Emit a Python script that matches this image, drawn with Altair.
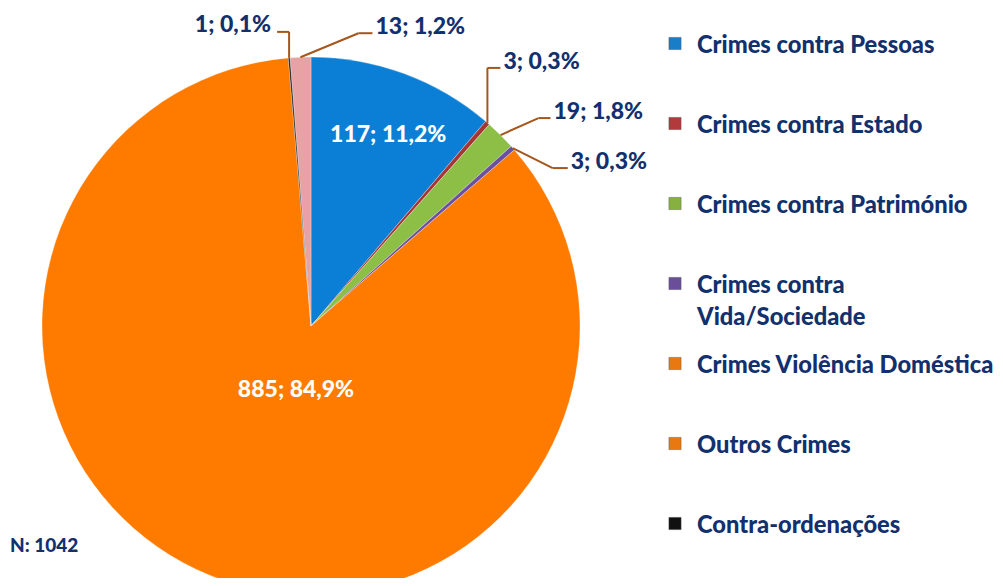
import altair as alt
import pandas as pd

# ---------------- data ----------------
categories = [
    "Crimes contra Pessoas",
    "Crimes contra Estado",
    "Crimes contra Património",
    "Crimes contra Vida/Sociedade",
    "Crimes Violência Doméstica",
    "Outros Crimes",
    "Contra-ordenações",
]
legend_labels = [
    "Crimes contra Pessoas",
    "Crimes contra Estado",
    "Crimes contra Património",
    "Crimes contra\nVida/Sociedade",
    "Crimes Violência Doméstica",
    "Outros Crimes",
    "Contra-ordenações",
]
counts = [117, 3, 19, 3, 885, 13, 1]
percent_labels = ["11,2%", "0,3%", "1,8%", "0,3%", "84,9%", "1,2%", "0,1%"]
pie_order = [0, 1, 2, 3, 4, 6, 5]
N_TOTAL = 1042

# ---------------- style ----------------
pie_colors = ["#0A7FD5", "#A53636", "#8DBE45", "#6B4FA0", "#FF7B00", "#E7A3A3", "#1A1A1A"]
legend_colors = ["#1A7DC8", "#B23A3A", "#86B040", "#6A4E9A", "#E8780F", "#E8780F", "#111111"]
NAVY = "#12306E"
BROWN = "#A4561C"
FONT = "Lato"
WEIGHT = 900
LABEL_SIZE = 23
LEGEND_SIZE = 23.7

W, H = 987, 570
CX, CY, R = 303, 318, 269
# leader layout: elbow offset from rim point, horizontal tail length
LEADERS = {
    "Crimes contra Estado": (0, -55, 13),
    "Crimes contra Património": (38, -17, 12),
    "Crimes contra Vida/Sociedade": (40, 20, 15),
    "Outros Crimes": (58, -24, 14),
    "Contra-ordenações": (0, -26, -12),
}
INSIDE = ["Crimes contra Pessoas", "Crimes Violência Doméstica"]

total = sum(counts)
df = pd.DataFrame({
    "category": categories,
    "legend_label": legend_labels,
    "count": counts,
    "pct": percent_labels,
    "rank": pie_order,
    "pie_color": pie_colors,
    "legend_color": legend_colors,
})
df["label"] = [f"{c}; {p}" for c, p in zip(counts, percent_labels)]
df["has_leader"] = [c in LEADERS for c in categories]
df["ox"] = [LEADERS.get(c, (0, 0, 0))[0] for c in categories]
df["oy"] = [LEADERS.get(c, (0, 0, 0))[1] for c in categories]
df["tail"] = [LEADERS.get(c, (0, 0, 0))[2] for c in categories]

theta_scale = alt.Scale(domain=[0, total])

base = alt.Chart(df).transform_window(
    cum="sum(count)",
    sort=[alt.SortField("rank", order="ascending")],
    frame=[None, 0],
).transform_calculate(
    mid="datum.cum - datum.count / 2"
).transform_calculate(
    ang=f"datum.mid / {total} * 2 * PI"
).transform_calculate(
    sx=f"{CX} + {R} * sin(datum.ang)",
    sy=f"{CY} - {R} * cos(datum.ang)",
).transform_calculate(
    ex="datum.sx + datum.ox",
    ey="datum.sy + datum.oy",
).transform_calculate(
    tx="datum.ex + datum.tail"
)

pie = alt.Chart(df).mark_arc(outerRadius=R, stroke="#ffffff", strokeWidth=0.3).encode(
    theta=alt.Theta("count:Q", scale=theta_scale, stack=True),
    order=alt.Order("rank:Q"),
    color=alt.Color("category:N", scale=alt.Scale(domain=categories, range=pie_colors), legend=None),
    x=alt.value(CX),
    y=alt.value(CY),
)

inside1 = base.transform_filter(f"datum.category == '{INSIDE[0]}'").mark_text(
    radius=206, dx=6, dy=2, font=FONT, fontWeight=WEIGHT, fontSize=LABEL_SIZE, color="white"
).encode(
    theta=alt.Theta("mid:Q", scale=theta_scale, stack=None),
    text="label:N",
    x=alt.value(CX),
    y=alt.value(CY),
)
inside2 = base.transform_filter(f"datum.category == '{INSIDE[1]}'").mark_text(
    radius=69, dx=11, dy=0, font=FONT, fontWeight=WEIGHT, fontSize=LABEL_SIZE, color="white"
).encode(
    theta=alt.Theta("mid:Q", scale=theta_scale, stack=None),
    text="label:N",
    x=alt.value(CX),
    y=alt.value(CY),
)

lead = base.transform_filter("datum.has_leader")
seg1 = lead.mark_rule(color=BROWN, strokeWidth=2).encode(
    x=alt.X("sx:Q", scale=None, axis=None),
    y=alt.Y("sy:Q", scale=None, axis=None),
    x2="ex:Q",
    y2="ey:Q",
)
seg2 = lead.mark_rule(color=BROWN, strokeWidth=2).encode(
    x=alt.X("ex:Q", scale=None, axis=None),
    y=alt.Y("ey:Q", scale=None, axis=None),
    x2="tx:Q",
    y2="ey:Q",
)
lab_right = lead.transform_filter("datum.tail > 0").mark_text(
    align="left", baseline="alphabetic", dx=3, dy=1,
    font=FONT, fontWeight=WEIGHT, fontSize=LABEL_SIZE, color=NAVY,
).encode(
    x=alt.X("tx:Q", scale=None, axis=None),
    y=alt.Y("ey:Q", scale=None, axis=None),
    text="label:N",
)
lab_left = lead.transform_filter("datum.tail < 0").mark_text(
    align="right", baseline="alphabetic", dx=-6, dy=0,
    font=FONT, fontWeight=WEIGHT, fontSize=LABEL_SIZE, color=NAVY,
).encode(
    x=alt.X("tx:Q", scale=None, axis=None),
    y=alt.Y("ey:Q", scale=None, axis=None),
    text="label:N",
)

leg_y = alt.Y("category:N", sort=categories,
              scale=alt.Scale(type="point", range=[35.5, 515.5], padding=0), axis=None)
leg_sq = alt.Chart(df).mark_square(size=150, opacity=1, strokeWidth=1, stroke="#555555", strokeOpacity=0.4).encode(
    x=alt.value(667),
    y=leg_y,
    color=alt.Color("legend_color:N", scale=None),
)
leg_txt = alt.Chart(df).mark_text(
    align="left", baseline="alphabetic", dy=9, lineBreak="\n", lineHeight=32.5,
    font=FONT, fontWeight=WEIGHT, fontSize=LEGEND_SIZE, color=NAVY,
).encode(
    x=alt.value(689),
    y=leg_y,
    text="legend_label:N",
)

n_text = alt.Chart(pd.DataFrame({"t": [f"N: {N_TOTAL}"]})).mark_text(
    align="left", baseline="middle", font=FONT, fontWeight=WEIGHT, fontSize=19, color=NAVY,
).encode(
    x=alt.value(2),
    y=alt.value(538),
    text="t:N",
)

chart = alt.layer(
    pie, inside1, inside2, seg1, seg2, lab_right, lab_left, leg_sq, leg_txt, n_text
).resolve_scale(
    x="independent", y="independent", color="independent"
).properties(
    width=W, height=H, autosize=alt.AutoSizeParams(type="none"), padding=0,
).configure_view(stroke=None)

chart.save("out.html", embed_options={"renderer": "svg", "actions": False})
